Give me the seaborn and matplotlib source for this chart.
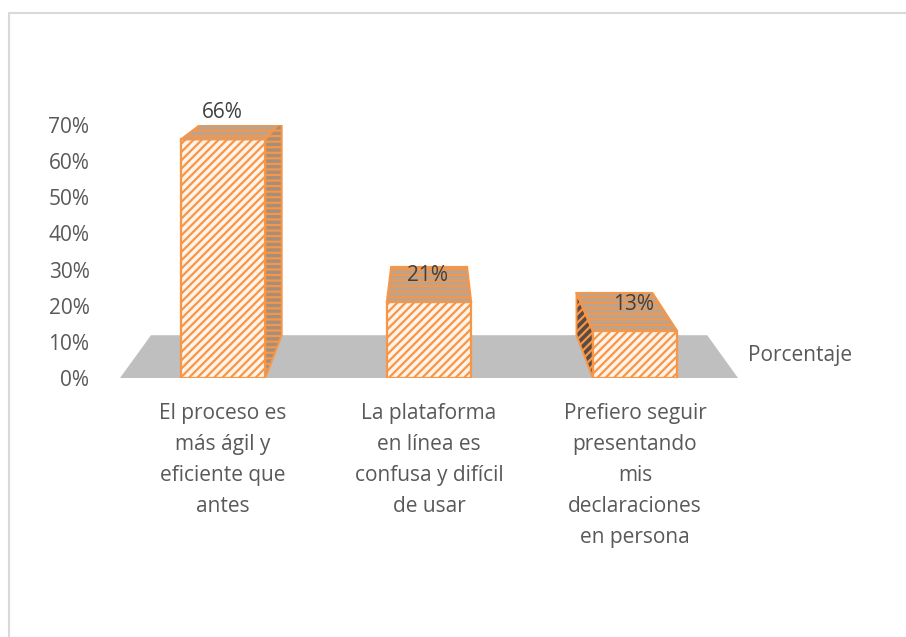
import numpy as np
import pandas as pd
import matplotlib
matplotlib.use("Agg")
import matplotlib.pyplot as plt
from matplotlib.patches import Polygon, Rectangle
from matplotlib.lines import Line2D
import seaborn as sns

categories = ["El proceso es\nmás ágil y\neficiente que\nantes",
              "La plataforma\nen línea es\nconfusa y difícil\nde usar",
              "Prefiero seguir\npresentando\nmis\ndeclaraciones\nen persona"]
values = [0.66, 0.21, 0.13]
labels = ["66%", "21%", "13%"]
series_name = "Porcentaje"
yticks = [0, 0.1, 0.2, 0.3, 0.4, 0.5, 0.6, 0.7]

orange = "#F79646"
text_col = "#595959"

sns.set_theme(style="white")
plt.rcParams["font.family"] = ["Open Sans", "DejaVu Sans"]
plt.rcParams["hatch.linewidth"] = 1.6

df = pd.DataFrame({"cat": categories, "val": values})

fig = plt.figure(figsize=(9.06, 6.37), dpi=100)
ax = fig.add_axes([120 / 906, 1 - 378 / 637, 618 / 906, 253 / 637])

sns.barplot(data=df, x="cat", y="val", width=0.41, color="#FFF3EA",
            saturation=1, edgecolor=orange, linewidth=1.6, ax=ax, zorder=3)
ax.set_xlim(-0.5, 2.5)
ax.set_ylim(0, 0.7)

# fake 3D: push back faces towards a vanishing point (display coords)
fig.canvas.draw()
vp = np.array([430.0, 637 + 50.0])
depth = 0.1
to_disp = ax.transData.transform
to_data = ax.transData.inverted().transform


def back(pts):
    d = to_disp(np.asarray(pts, dtype=float))
    return to_data(d + depth * (vp - d))


# floor
x0, x1 = ax.get_xlim()
front = np.array([[x0, 0], [x1, 0]])
bk = back(front)
ax.add_patch(Polygon([front[0], front[1], bk[1], bk[0]], closed=True,
                     facecolor="#BFBFBF", edgecolor="none", zorder=0))

bars = [p for p in ax.patches if isinstance(p, Rectangle)]
for p in bars:
    p.set_hatch("////")
    bx0 = p.get_x()
    bx1 = bx0 + p.get_width()
    h = p.get_height()
    fl, fr = np.array([bx0, h]), np.array([bx1, h])
    bl, br = back([fl, fr])
    ax.add_patch(Polygon([fl, fr, br, bl], closed=True, facecolor="#B9A391",
                         edgecolor=orange, hatch="---", linewidth=1.4, zorder=4))
    cx = to_disp([[bx0 + p.get_width() / 2, 0]])[0][0]
    if cx < vp[0] - 20:
        sb = back([[bx1, 0]])[0]
        ax.add_patch(Polygon([fr, [bx1, 0], sb, br], closed=True,
                             facecolor="#A58E7A", edgecolor=orange,
                             hatch="---", linewidth=1.4, zorder=2))
    elif cx > vp[0] + 20:
        sb = back([[bx0, 0]])[0]
        ax.add_patch(Polygon([fl, [bx0, 0], sb, bl], closed=True,
                             facecolor="#5A4B42", edgecolor=orange,
                             hatch="////", linewidth=1.4, zorder=2))

for i, v in enumerate(values):
    ax.annotate(labels[i], (i, v), xytext=(-1, 27), textcoords="offset pixels",
                ha="center", va="center", fontsize=15, color="#404040", zorder=6)

ax.set_yticks(yticks)
ax.set_yticklabels([f"{int(round(t * 100))}%" for t in yticks])
ax.tick_params(axis="y", length=0, pad=22, labelsize=15, labelcolor=text_col)
ax.tick_params(axis="x", length=0, pad=18, labelsize=15, labelcolor=text_col)
for lab in ax.get_xticklabels():
    lab.set_linespacing(1.62)
    lab.set_multialignment("center")
ax.set_xlabel("")
ax.set_ylabel("")
sns.despine(ax=ax, left=True, bottom=True)

fig.text(748 / 906, 1 - 356 / 637, series_name, ha="left", va="center",
         fontsize=15, color=text_col)

# chart border
fig.add_artist(Line2D([9 / 906, 1], [1 - 13 / 637] * 2, color="#D9D9D9",
                      lw=1.5, transform=fig.transFigure))
fig.add_artist(Line2D([9 / 906] * 2, [0, 1 - 13 / 637], color="#D9D9D9",
                      lw=1.5, transform=fig.transFigure))

fig.savefig("out.png", dpi=100)
